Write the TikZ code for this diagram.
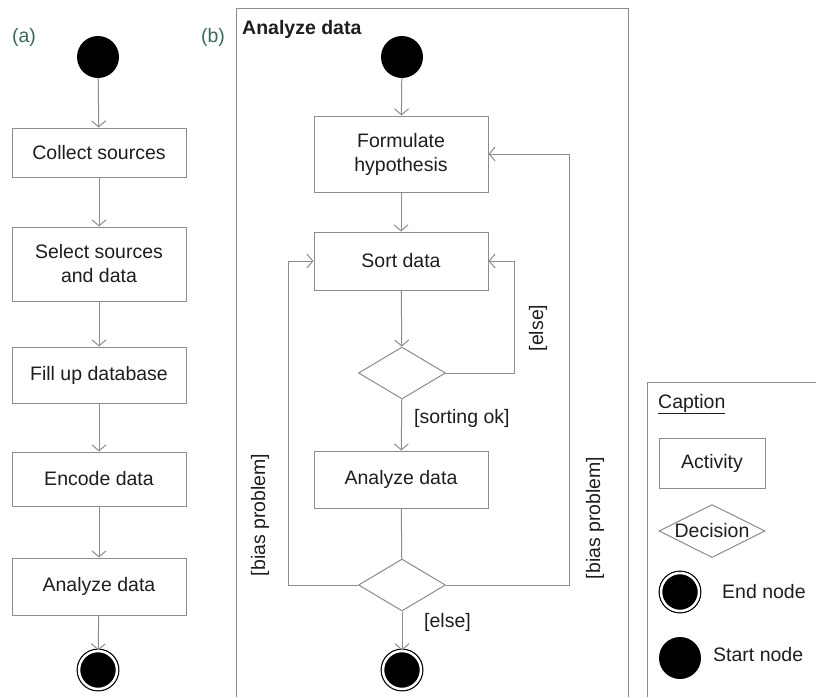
\documentclass[tikz,border=0pt]{standalone}
\usepackage{fontspec}
\setmainfont{Liberation Sans}
\usetikzlibrary{arrows.meta,shapes.geometric}
\definecolor{linegray}{HTML}{8C8C8C}
\definecolor{textc}{HTML}{1E1E1E}
\definecolor{labgreen}{HTML}{3A6B55}
\tikzset{
  fs/.style={font=\fontsize{19.5}{24}\selectfont, text=textc},
  act/.style={fs, draw=linegray, line width=1pt, minimum width=174pt, align=center, inner sep=0pt},
  dec/.style={draw=linegray, line width=1pt, diamond, minimum width=87pt, minimum height=52pt, inner sep=0pt},
  startn/.style={circle, fill=black, minimum size=42pt, inner sep=0pt},
  endn/.style={circle, draw=black, fill=black, double=white, line width=1.2pt, double distance=2.5pt, minimum size=38pt, inner sep=0pt},
  arr/.style={draw=linegray, line width=1pt, -{Straight Barb[length=6pt,width=14pt]}},
  plain/.style={draw=linegray, line width=1pt},
  lab/.style={fs, inner sep=0pt},
}
\begin{document}
\begin{tikzpicture}[x=1pt,y=-1pt]
\useasboundingbox (0,0) rectangle (816,697);
\fill[white] (0,0) rectangle (816,697);

% ---------- panel (a)
\node[font=\fontsize{19.5}{24}\selectfont, text=labgreen, inner sep=0pt] (la) at (24,37) {(a)};
\node[startn] (as) at (98,57) {};
\node[act, minimum height=49pt] (a1) at (99,152.5) {Collect sources};
\node[act, minimum height=74pt] (a2) at (99,264) {Select sources\\and data};
\node[act, minimum height=56pt] (a3) at (99,375) {Fill up database};
\node[act, minimum height=54pt] (a4) at (99,479) {Encode data};
\node[act, minimum height=57pt] (a5) at (99,586.5) {Analyze data};
\node[endn] (ae) at (98,670) {};
\draw[arr] (as) -- (a1);
\draw[arr] (a1) -- (a2);
\draw[arr] (a2) -- (a3);
\draw[arr] (a3) -- (a4);
\draw[arr] (a4) -- (a5);
\draw[arr] (a5) -- (ae);

% ---------- panel (b)
\node[font=\fontsize{19.5}{24}\selectfont, text=labgreen, inner sep=0pt] (lb) at (213,37) {(b)};
\coordinate (fbl) at (236,697);
\coordinate (ftl) at (236,8);
\coordinate (ftr) at (628,8);
\coordinate (fbr) at (628,697);
\draw[plain] (fbl) -- (ftl) -- (ftr) -- (fbr);
\node[lab, font=\fontsize{19.5}{24}\selectfont\bfseries, anchor=west] (title) at (242,29) {Analyze data};

\node[startn] (bs) at (402,57) {};
\node[act, minimum height=76pt] (form) at (401,154) {Formulate\\hypothesis};
\node[act, minimum height=58pt] (sort) at (401,261) {Sort data};
\node[dec] (d1) at (402,373) {};
\node[act, minimum height=57pt] (ana) at (401,479.5) {Analyze data};
\node[dec] (d2) at (402,585) {};
\node[endn] (be) at (402,670) {};

\draw[arr] (bs) -- (form);
\draw[arr] (form) -- (sort);
\draw[arr] (sort) -- (d1);
\draw[arr] (d1) -- (ana);
\draw[plain] (ana) -- (d2);
\draw[arr] (d2) -- (be);

\coordinate (e1) at (514,261);
\draw[arr] (d1.east) -| (e1) -- (sort.east);
\coordinate (bl) at (288,261);
\draw[arr] (d2.west) -| (bl) -- (sort.west);
\coordinate (br) at (569,154);
\draw[arr] (d2.east) -| (br) -- (form.east);

\node[lab, rotate=90] (l1) at (538,328) {[else]};
\node[lab, anchor=west] (l2) at (414,418) {[sorting ok]};
\node[lab, rotate=90] (l3) at (260,515) {[bias problem]};
\node[lab, rotate=90] (l4) at (595,518) {[bias problem]};
\node[lab, anchor=west] (l5) at (424,622) {[else]};

% ---------- caption
\coordinate (cbl) at (647,697);
\coordinate (ctl) at (647,382);
\coordinate (ctr) at (816,382);
\draw[plain] (cbl) -- (ctl) -- (ctr);
\node[lab, anchor=west] (cap) at (658,404) {\underline{Caption}};
\node[act, minimum width=106pt, minimum height=50pt] (kact) at (712,463) {Activity};
\node[dec, minimum width=106pt, minimum height=53pt] (kdec) at (712,531) {};
\node[lab] (kdecl) at (712,531) {Decision};
\node[endn] (kend) at (680,592) {};
\node[lab, anchor=west] (kendl) at (722,592) {End node};
\node[startn] (kst) at (680,658) {};
\node[lab, anchor=west] (kstl) at (713,655) {Start node};
\end{tikzpicture}
\end{document}
